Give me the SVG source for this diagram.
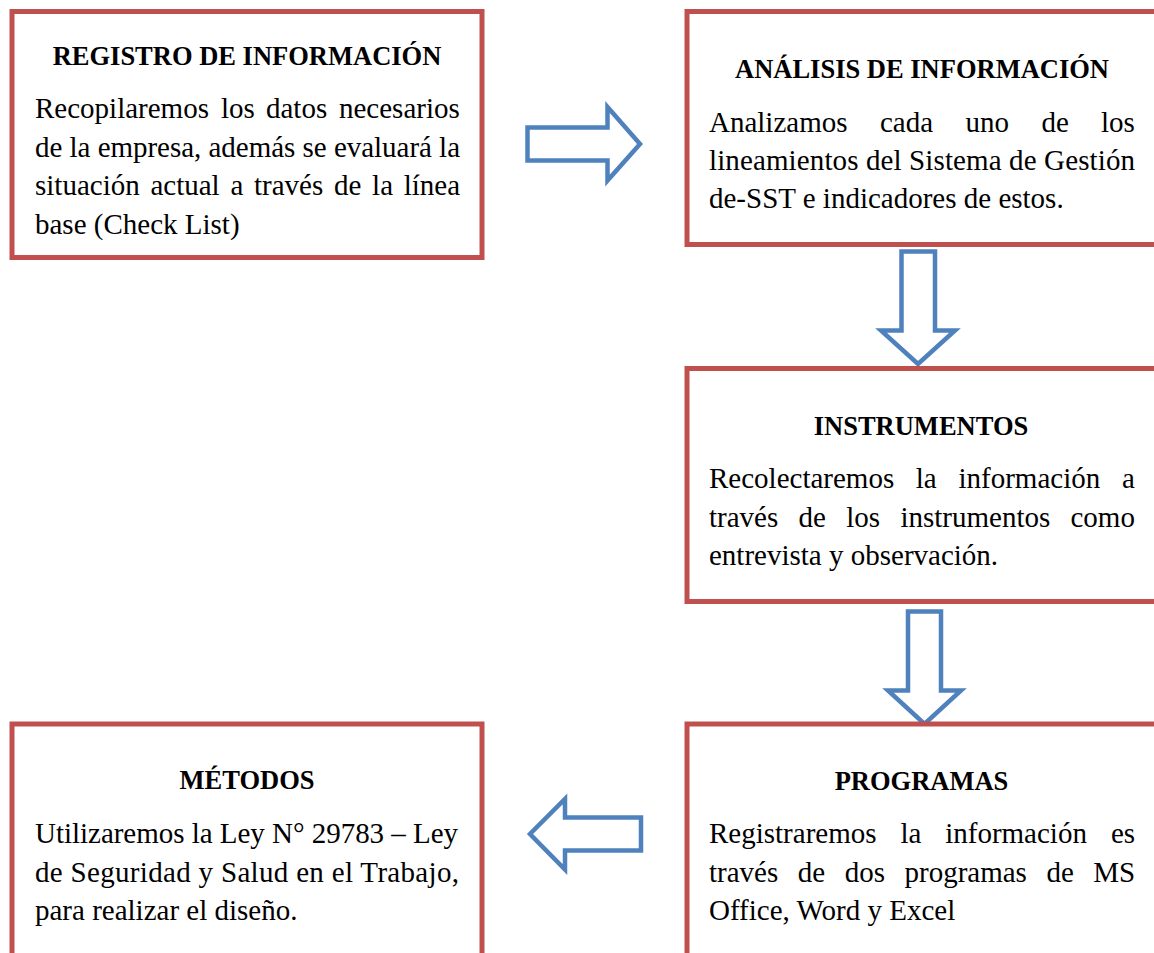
<svg xmlns="http://www.w3.org/2000/svg" width="1154" height="953" viewBox="0 0 1154 953">
<style>
.box{fill:#FFFFFF;stroke:#C0504D;stroke-width:5}
.arr{fill:#FFFFFF;stroke:#4F81BD;stroke-width:4.5;stroke-linejoin:miter}
.h{font-family:"Liberation Serif","Times New Roman",serif;font-weight:bold;font-size:26.5px;fill:#000;text-anchor:middle}
.t{font-family:"Liberation Serif","Times New Roman",serif;font-size:29px;fill:#000}
</style>
<rect width="1154" height="953" fill="#FFFFFF"/>
<g id="connectors">
<path class="arr" d="M527.5,127.5 H607.5 V107 L640,144 L607.5,180.5 V160.5 H527.5 Z"/>
<path class="arr" d="M901.5,251.5 H935 V330.5 H955 L918,364 L881,330.5 H901.5 Z"/>
<path class="arr" d="M908,611.5 H941 V690.5 H961 L924.5,724 L888,690.5 H908 Z"/>
<path class="arr" d="M641,817.5 H565 V799 L530,834 L565,869.5 V850.5 H641 Z"/>
</g>
<g id="registro">
<rect class="box" x="12" y="11.5" width="470" height="246"/>
<text class="h" x="247" y="65">REGISTRO DE INFORMACIÓN</text>
<text class="t" y="118"><tspan x="35">Recopilaremos</tspan><tspan x="221">los</tspan><tspan x="266">datos</tspan><tspan x="339">necesarios</tspan></text>
<text class="t" x="35" y="156.5" textLength="425" lengthAdjust="spacing">de la empresa, además se evaluará la</text>
<text class="t" y="195"><tspan x="35">situación</tspan><tspan x="150.4">actual</tspan><tspan x="230.4">a</tspan><tspan x="254">través</tspan><tspan x="334">de</tspan><tspan x="372.1">la</tspan><tspan x="403.7">línea</tspan></text>
<text class="t" x="35" y="233.5">base (Check List)</text>
</g>
<g id="analisis">
<rect class="box" x="687" y="11.5" width="500" height="233"/>
<text class="h" x="922" y="78">ANÁLISIS DE INFORMACIÓN</text>
<text class="t" y="132"><tspan x="709">Analizamos</tspan><tspan x="880">cada</tspan><tspan x="965.5">uno</tspan><tspan x="1041.5">de</tspan><tspan x="1101">los</tspan></text>
<text class="t" x="709" y="170" textLength="426" lengthAdjust="spacing">lineamientos del Sistema de Gestión</text>
<text class="t" x="709" y="208">de-SST e indicadores de estos.</text>
</g>
<g id="instrumentos">
<rect class="box" x="687" y="368.5" width="500" height="233"/>
<text class="h" x="921" y="435">INSTRUMENTOS</text>
<text class="t" y="488"><tspan x="709">Recolectaremos</tspan><tspan x="915.8">la</tspan><tspan x="958.5">información</tspan><tspan x="1122.1">a</tspan></text>
<text class="t" y="527"><tspan x="709">través</tspan><tspan x="798.6">de</tspan><tspan x="846.3">los</tspan><tspan x="900.4">instrumentos</tspan><tspan x="1070.5">como</tspan></text>
<text class="t" x="709" y="565">entrevista y observación.</text>
</g>
<g id="programas">
<rect class="box" x="687" y="724" width="500" height="300"/>
<text class="h" x="921.5" y="790">PROGRAMAS</text>
<text class="t" y="843"><tspan x="709">Registraremos</tspan><tspan x="900.4">la</tspan><tspan x="945.2">información</tspan><tspan x="1110.9">es</tspan></text>
<text class="t" y="882"><tspan x="709">través</tspan><tspan x="797.8">de</tspan><tspan x="844.7">dos</tspan><tspan x="904.5">programas</tspan><tspan x="1046.4">de</tspan><tspan x="1093.3">MS</tspan></text>
<text class="t" x="709" y="920">Office, Word y Excel</text>
</g>
<g id="metodos">
<rect class="box" x="12" y="724" width="470" height="300"/>
<text class="h" x="247" y="789">MÉTODOS</text>
<text class="t" x="35" y="843" textLength="423" lengthAdjust="spacing">Utilizaremos la Ley N° 29783 – Ley</text>
<text class="t" x="35" y="882" textLength="424" lengthAdjust="spacing">de Seguridad y Salud en el Trabajo,</text>
<text class="t" x="35" y="920">para realizar el diseño.</text>
</g>
</svg>
